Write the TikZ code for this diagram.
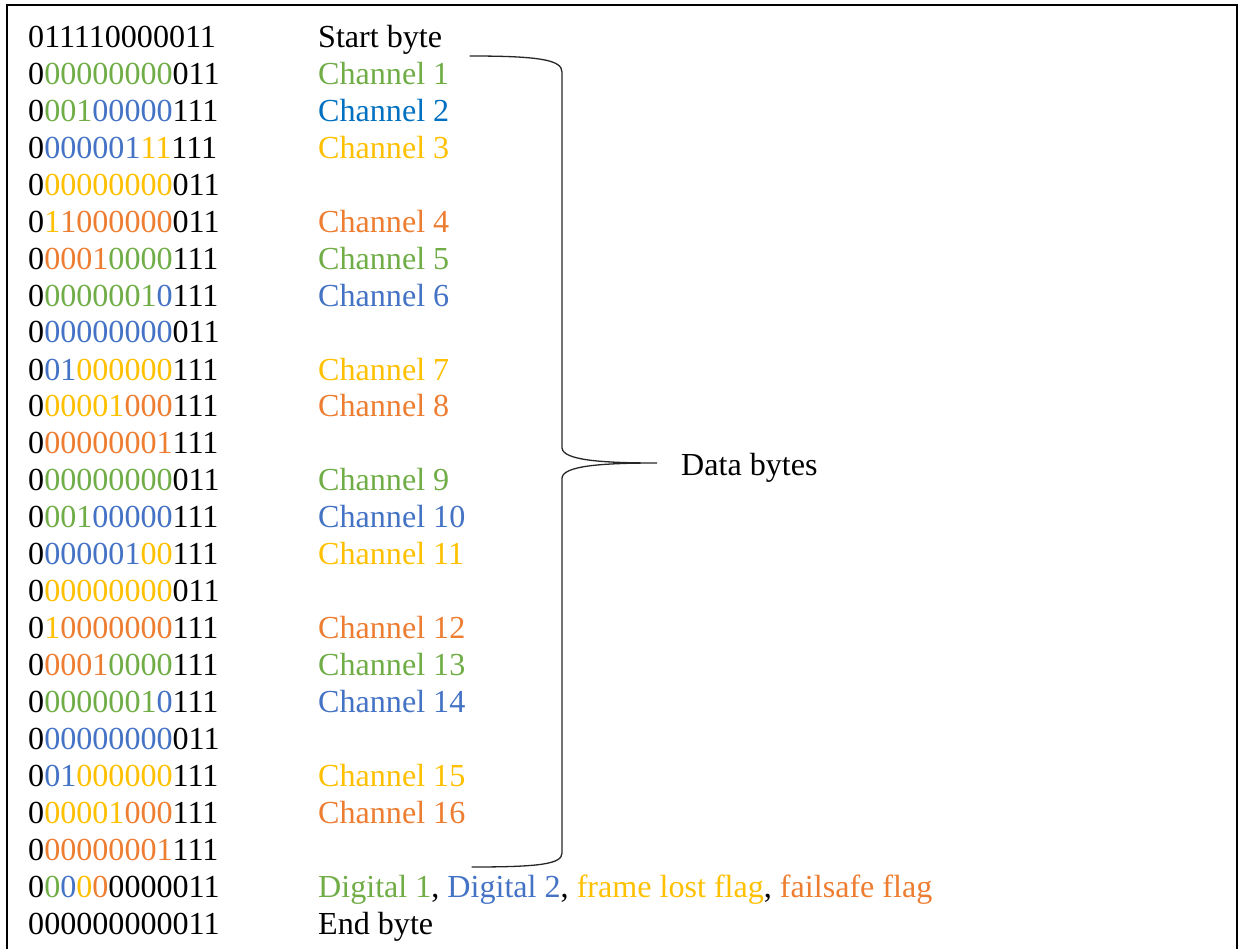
\documentclass[tikz,border=0pt]{standalone}
\usepackage{fontspec}
\setmainfont{Liberation Serif}
\definecolor{cgreen}{HTML}{70AD47}
\definecolor{cblue}{HTML}{4472C4}
\definecolor{cbluedark}{HTML}{0070C0}
\definecolor{cyellow}{HTML}{FFC000}
\definecolor{corange}{HTML}{ED7D31}
\newcommand{\bG}[1]{\textcolor{cgreen}{#1}}
\newcommand{\bB}[1]{\textcolor{cblue}{#1}}
\newcommand{\bY}[1]{\textcolor{cyellow}{#1}}
\newcommand{\bO}[1]{\textcolor{corange}{#1}}
\begin{document}
\begin{tikzpicture}[x=1pt,y=-1pt,
  txt/.style={anchor=base west,inner sep=0pt,font=\fontsize{32.1}{36}\selectfont},
  bits/.style={txt},
  lbl/.style={txt},
  bracepath/.style={line width=1.3pt,draw=black!85,line cap=round}]
\useasboundingbox (0,0) rectangle (1239,949);
% frame
\draw[line width=1.4pt] (7,949) -- (7,5) -- (1237,5) -- (1237,949);

% bit patterns
\node[bits] (b1)  at (28,47.5)  {011110000011};
\node[bits] (b2)  at (28,84.4)  {0\bG{00000000}011};
\node[bits] (b3)  at (28,121.4) {0\bG{001}\bB{00000}111};
\node[bits] (b4)  at (28,158.3) {0\bB{000001}\bY{11}111};
\node[bits] (b5)  at (28,195.3) {0\bY{00000000}011};
\node[bits] (b6)  at (28,232.2) {0\bY{1}\bO{1000000}011};
\node[bits] (b7)  at (28,269.1) {0\bO{0001}\bG{0000}111};
\node[bits] (b8)  at (28,306.1) {0\bG{0000001}\bB{0}111};
\node[bits] (b9)  at (28,343.0) {0\bB{00000000}011};
\node[bits] (b10) at (28,380.0) {0\bB{01}\bY{000000}111};
\node[bits] (b11) at (28,416.9) {0\bY{00001}\bO{000}111};
\node[bits] (b12) at (28,453.8) {0\bO{00000001}111};
\node[bits] (b13) at (28,490.8) {0\bG{00000000}011};
\node[bits] (b14) at (28,527.7) {0\bG{001}\bB{00000}111};
\node[bits] (b15) at (28,564.7) {0\bB{000001}\bY{00}111};
\node[bits] (b16) at (28,601.6) {0\bY{00000000}011};
\node[bits] (b17) at (28,638.5) {0\bY{1}\bO{0000000}111};
\node[bits] (b18) at (28,675.5) {0\bO{0001}\bG{0000}111};
\node[bits] (b19) at (28,712.4) {0\bG{0000001}\bB{0}111};
\node[bits] (b20) at (28,749.4) {0\bB{00000000}011};
\node[bits] (b21) at (28,786.3) {0\bB{01}\bY{000000}111};
\node[bits] (b22) at (28,823.2) {0\bY{00001}\bO{000}111};
\node[bits] (b23) at (28,860.2) {0\bO{00000001}111};
\node[bits] (b24) at (28,897.1) {0\bG{0}\bB{0}\bY{0}\bO{0}0000011};
\node[bits] (b25) at (28,934.1) {000000000011};

% labels
\node[lbl] (l1)  at (318,47.5)  {Start byte};
\node[lbl,text=cgreen]    (l2)  at (318,84.4)  {Channel 1};
\node[lbl,text=cbluedark] (l3)  at (318,121.4) {Channel 2};
\node[lbl,text=cyellow]   (l4)  at (318,158.3) {Channel 3};
\node[lbl,text=corange]   (l6)  at (318,232.2) {Channel 4};
\node[lbl,text=cgreen]    (l7)  at (318,269.1) {Channel 5};
\node[lbl,text=cblue]     (l8)  at (318,306.1) {Channel 6};
\node[lbl,text=cyellow]   (l10) at (318,380.0) {Channel 7};
\node[lbl,text=corange]   (l11) at (318,416.9) {Channel 8};
\node[lbl,text=cgreen]    (l13) at (318,490.8) {Channel 9};
\node[lbl,text=cblue]     (l14) at (318,527.7) {Channel 10};
\node[lbl,text=cyellow]   (l15) at (318,564.7) {Channel 11};
\node[lbl,text=corange]   (l17) at (318,638.5) {Channel 12};
\node[lbl,text=cgreen]    (l18) at (318,675.5) {Channel 13};
\node[lbl,text=cblue]     (l19) at (318,712.4) {Channel 14};
\node[lbl,text=cyellow]   (l21) at (318,786.3) {Channel 15};
\node[lbl,text=corange]   (l22) at (318,823.2) {Channel 16};
\node[lbl] (l24) at (318,897.1) {\textcolor{cgreen}{Digital 1}, \textcolor{cblue}{Digital 2}, \textcolor{cyellow}{frame lost flag}, \textcolor{corange}{failsafe flag}};
\node[lbl] (l25) at (318,934.1) {End byte};

% brace over the data bytes
\coordinate (btop) at (470,56);
\coordinate (btip) at (657,463);
\coordinate (bbot) at (472,867);
\draw[bracepath] (btop) .. controls (540,56) and (562,60) .. (562,72)
  -- (562,448) .. controls (563,460) and (600,463) .. (btip)
  .. controls (600,463) and (563,466) .. (562,478)
  -- (562,853) .. controls (562,864) and (540,867) .. (bbot);
\node[lbl] (data) at (681,475) {Data bytes};
\end{tikzpicture}
\end{document}
